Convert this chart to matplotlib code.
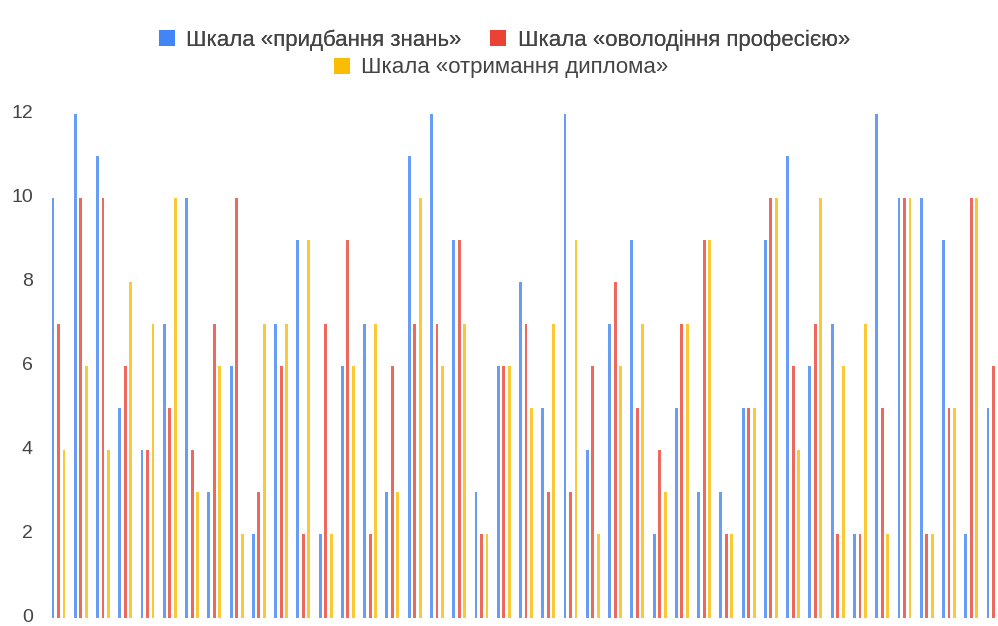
import matplotlib
matplotlib.use("Agg")
import matplotlib.pyplot as plt
import numpy as np
from matplotlib.patches import Patch

series_names = ["Шкала «придбання знань»", "Шкала «оволодіння професією»", "Шкала «отримання диплома»"]
knowledge = [10, 12, 11, 5, 4, 7, 10, 3, 6, 2, 7, 9, 2, 6, 7, 3, 11, 12, 9, 3, 6,
             8, 5, 12, 4, 7, 9, 2, 5, 3, 3, 5, 9, 11, 6, 7, 2, 12, 10, 10, 9, 2, 5]
profession = [7, 10, 10, 6, 4, 5, 4, 7, 10, 3, 6, 2, 7, 9, 2, 6, 7, 7, 9, 2, 6,
              7, 3, 3, 6, 8, 5, 4, 7, 9, 2, 5, 10, 6, 7, 2, 2, 5, 10, 2, 5, 10, 6]
diploma = [4, 6, 4, 8, 7, 10, 3, 6, 2, 7, 7, 9, 2, 6, 7, 3, 10, 6, 7, 2, 6,
           5, 7, 9, 2, 6, 7, 3, 7, 9, 2, 5, 10, 4, 10, 6, 7, 2, 10, 2, 5, 10, 6]
yticks = [0, 2, 4, 6, 8, 10, 12]
colors = ["#4285f4", "#ea4335", "#fbbc04"]

plt.rcParams['font.family'] = ['Liberation Sans', 'DejaVu Sans']

fig = plt.figure(figsize=(9.98, 6.26), dpi=100)
ax = fig.add_axes([45/998, 8/626, 953/998, 513/626])

x = np.arange(len(knowledge))
off = 0.247
w = 0.13
for vals, c, dx in zip([knowledge, profession, diploma], colors, [-off, 0, off]):
    ax.bar(x + dx, vals, width=w, color=c, alpha=0.8, linewidth=0)

ax.set_xlim(-0.606, 42.2)
ax.set_ylim(0, 12 + 9/42)
ax.set_yticks(yticks)
ax.set_yticklabels([])
ax.tick_params(axis='y', length=0)
ax.set_xticks([])
for s in ax.spines.values():
    s.set_visible(False)

ytrans = ax.get_yaxis_transform()
for t in yticks:
    ax.text(-12/953, t, str(t), transform=ytrans, ha='right', va='center',
            fontsize=14, color="#444444", clip_on=False)

handles = [Patch(facecolor=c, edgecolor='none') for c in colors]
leg1 = fig.legend(handles[:2], series_names[:2], loc='center', bbox_to_anchor=(0.5055, 1 - 40/626),
                  ncol=2, frameon=False, fontsize=16, handlelength=0.72, handleheight=0.72,
                  handletextpad=0.5, columnspacing=1.3, labelcolor="#444444")
leg2 = fig.legend(handles[2:], series_names[2:], loc='center', bbox_to_anchor=(0.5025, 1 - 68/626),
                  ncol=1, frameon=False, fontsize=16, handlelength=0.72, handleheight=0.72,
                  handletextpad=0.5, labelcolor="#444444")
fig.add_artist(leg1)

fig.savefig("out.png", dpi=100)
